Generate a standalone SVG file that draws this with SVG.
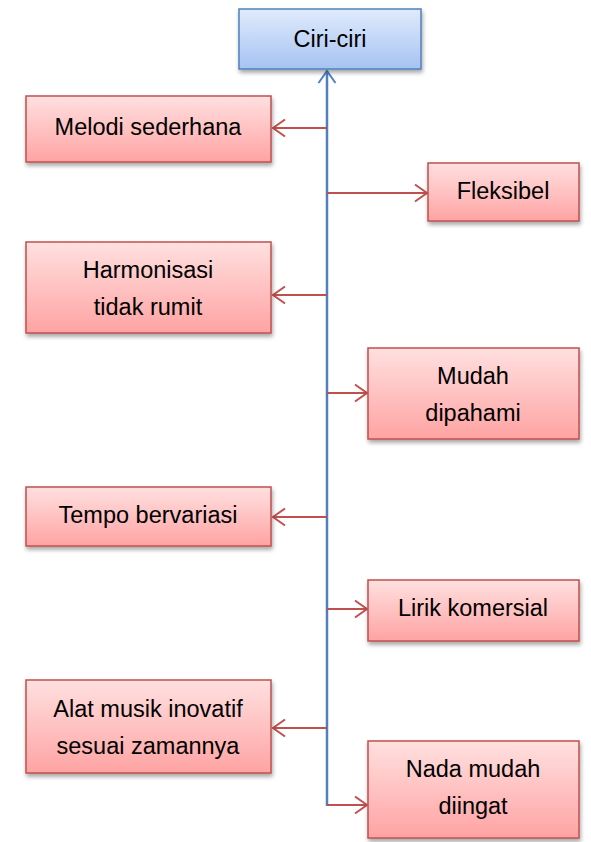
<svg xmlns="http://www.w3.org/2000/svg" width="591" height="842" viewBox="0 0 591 842">
<style>
.r{fill:url(#gr);stroke:#c0504d;stroke-width:1.5;filter:url(#sh)}
.b{fill:url(#gb);stroke:#4f81bd;stroke-width:1.5;filter:url(#sh)}
.t{font-family:"Liberation Sans",Arial,sans-serif;font-size:23.5px;fill:#000;text-anchor:middle;dominant-baseline:central}
.c{stroke:#c0504d;stroke-width:2;fill:none;marker-end:url(#ar)}
</style>
<defs>
<linearGradient id="gr" x1="0" y1="0" x2="0" y2="1"><stop offset="0" stop-color="#ffe0e0"/><stop offset="1" stop-color="#ffa3a3"/></linearGradient>
<linearGradient id="gb" x1="0" y1="0" x2="0" y2="1"><stop offset="0" stop-color="#e0ebfc"/><stop offset="1" stop-color="#a6c3f3"/></linearGradient>
<filter id="sh" x="-10%" y="-10%" width="130%" height="140%"><feDropShadow dx="1" dy="3" stdDeviation="2" flood-color="#000" flood-opacity="0.35"/></filter>
<marker id="ar" viewBox="0 0 14 20" refX="13" refY="10" markerWidth="14" markerHeight="20" markerUnits="userSpaceOnUse" orient="auto"><path d="M1 1.5 L13 10 L1 18.5" fill="none" stroke="#c0504d" stroke-width="2"/></marker>
<marker id="ab" viewBox="0 0 14 20" refX="13" refY="10" markerWidth="14" markerHeight="20" markerUnits="userSpaceOnUse" orient="auto"><path d="M1 1.5 L13 10 L1 18.5" fill="none" stroke="#4f81bd" stroke-width="2"/></marker>
</defs>
<g id="connectors">
<path d="M327 806 L327 71" stroke="#4f81bd" stroke-width="2.5" fill="none" marker-end="url(#ab)"/>
<path class="c" d="M327 128 L273 128"/>
<path class="c" d="M327 193 L427 193"/>
<path class="c" d="M327 295 L273 295"/>
<path class="c" d="M327 393 L367 393"/>
<path class="c" d="M327 517 L273 517"/>
<path class="c" d="M327 609 L367 609"/>
<path class="c" d="M327 728 L273 728"/>
<path class="c" d="M327 805 L367 805"/>
</g>
<g id="n0"><rect class="b" x="239" y="9" width="182" height="60"/><text class="t" x="330" y="39">Ciri-ciri</text></g>
<g id="n1"><rect class="r" x="26" y="96" width="245" height="66"/><text class="t" x="148" y="127">Melodi sederhana</text></g>
<g id="n2"><rect class="r" x="428" y="163" width="151" height="58"/><text class="t" x="503" y="191">Fleksibel</text></g>
<g id="n3"><rect class="r" x="26" y="242" width="245" height="91"/><text class="t" x="148" y="270">Harmonisasi</text><text class="t" x="148" y="307">tidak rumit</text></g>
<g id="n4"><rect class="r" x="368" y="348" width="211" height="91"/><text class="t" x="473" y="376">Mudah</text><text class="t" x="473" y="413">dipahami</text></g>
<g id="n5"><rect class="r" x="26" y="487" width="245" height="59"/><text class="t" x="148" y="515">Tempo bervariasi</text></g>
<g id="n6"><rect class="r" x="368" y="580" width="211" height="61"/><text class="t" x="473" y="608">Lirik komersial</text></g>
<g id="n7"><rect class="r" x="26" y="680" width="245" height="93"/><text class="t" x="148" y="709">Alat musik inovatif</text><text class="t" x="148" y="746">sesuai zamannya</text></g>
<g id="n8"><rect class="r" x="368" y="741" width="211" height="97"/><text class="t" x="473" y="769">Nada mudah</text><text class="t" x="473" y="806">diingat</text></g>
</svg>
